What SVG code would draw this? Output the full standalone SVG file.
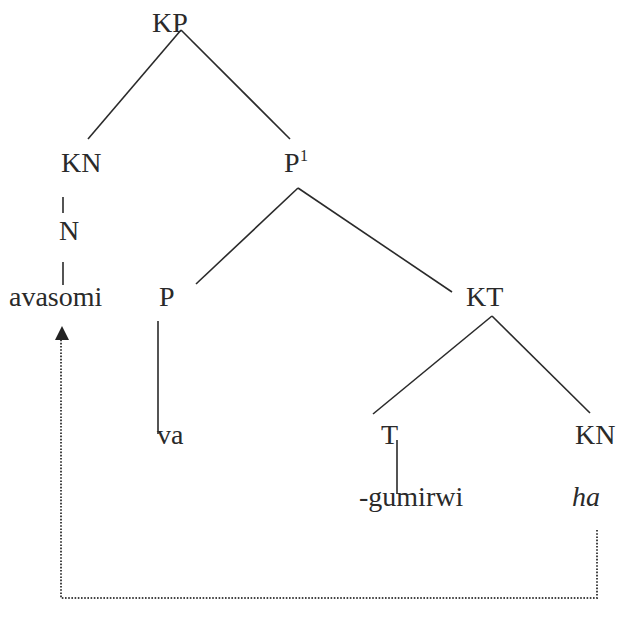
<svg xmlns="http://www.w3.org/2000/svg" width="617" height="622" viewBox="0 0 617 622">
<style>
text{font-family:"Liberation Serif","Times New Roman",serif;font-size:28px;fill:#2a2a2a}
.it{font-style:italic}
.sup{font-size:16px}
.edge{stroke:#2a2a2a;stroke-width:1.6;fill:none}
.dot{stroke:#444;stroke-width:2;stroke-dasharray:1.6 1.6;fill:none}
</style>
<rect width="617" height="622" fill="#fff"/>
<g id="connectors">
<line class="edge" x1="181" y1="30" x2="88" y2="139"/>
<line class="edge" x1="181" y1="30" x2="290" y2="139"/>
<line class="edge" x1="63" y1="197" x2="63" y2="213"/>
<line class="edge" x1="63" y1="262" x2="63" y2="285"/>
<line class="edge" x1="298" y1="188" x2="196" y2="284"/>
<line class="edge" x1="298" y1="188" x2="452" y2="292"/>
<line class="edge" x1="158" y1="321" x2="158" y2="434"/>
<line class="edge" x1="492" y1="316" x2="373" y2="414"/>
<line class="edge" x1="492" y1="316" x2="590" y2="413"/>
<line class="edge" x1="397" y1="440" x2="397" y2="494"/>
<polyline class="dot" points="597,530 597,598 61,598 61,340"/>
<polygon points="62,326 55,340 69,340" fill="#222"/>
</g>
<g id="KP"><text x="152" y="32">KP</text></g>
<g id="KN1"><text x="61" y="172">KN</text></g>
<g id="P1"><text x="284" y="172">P</text><text class="sup" x="300" y="161">1</text></g>
<g id="N"><text x="59" y="240">N</text></g>
<g id="avasomi"><text x="9" y="306">avasomi</text></g>
<g id="P"><text x="159" y="306">P</text></g>
<g id="KT"><text x="466" y="306">KT</text></g>
<g id="va"><text x="157" y="444">va</text></g>
<g id="T"><text x="381" y="444">T</text></g>
<g id="KN2"><text x="575" y="444">KN</text></g>
<g id="gumirwi"><text x="359" y="506">-gumirwi</text></g>
<g id="ha"><text class="it" x="572" y="506">ha</text></g>
</svg>
